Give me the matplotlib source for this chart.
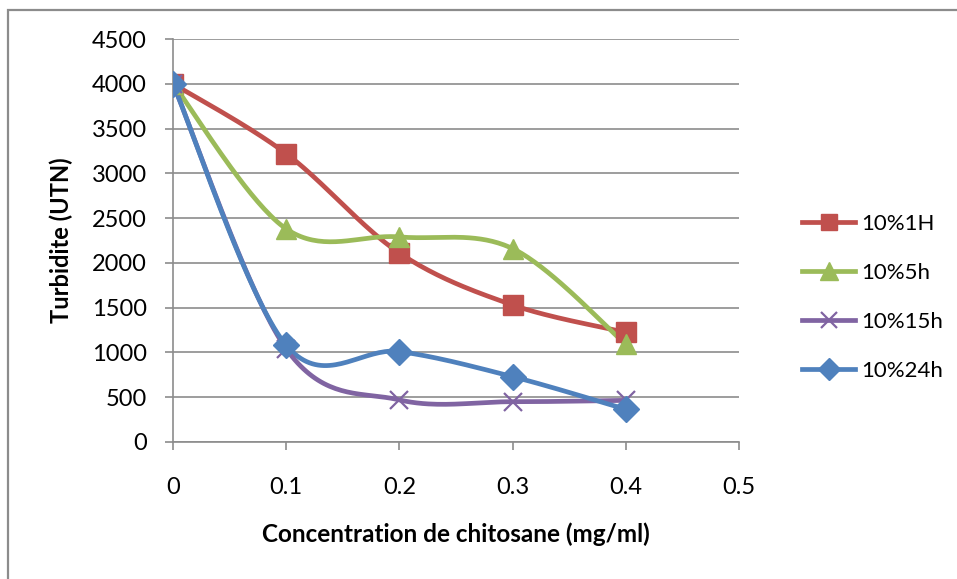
import numpy as np
import matplotlib.pyplot as plt
from matplotlib.lines import Line2D

# concentration de chitosane (mg/ml)
conc = [0, 0.1, 0.2, 0.3, 0.4]

# turbidite (UTN) for each treatment
turb_1h = [4000, 3220, 2110, 1530, 1225]
turb_5h = [4000, 2380, 2290, 2160, 1090]
turb_15h = [4000, 1040, 470, 450, 465]
turb_24h = [4000, 1080, 1010, 730, 365]

labels = ['10%1H', '10%5h', '10%15h', '10%24h']
colors = ['#C0504D', '#9BBB59', '#8064A2', '#4F81BD']
markers = ['s', '^', 'x', 'D']
msizes = [14, 15, 13, 13]

x_ticks = [0, 0.1, 0.2, 0.3, 0.4, 0.5]
y_ticks = [0, 500, 1000, 1500, 2000, 2500, 3000, 3500, 4000, 4500]


def smooth(x, y, n=40):
    """Bezier smoothing through every point (Catmull-Rom style control points)."""
    x = np.asarray(x, float)
    y = np.asarray(y, float)
    pts = np.column_stack([x, y])
    out = [pts[:1]]
    t = np.linspace(0, 1, n)[1:, None]
    for i in range(len(pts) - 1):
        p0 = pts[i]
        p3 = pts[i + 1]
        prev = pts[i - 1] if i > 0 else pts[i]
        nxt = pts[i + 2] if i + 2 < len(pts) else pts[i + 1]
        c1 = p0 + (p3 - prev) / 6.0
        c2 = p3 - (nxt - p0) / 6.0
        seg = ((1 - t) ** 3) * p0 + 3 * ((1 - t) ** 2) * t * c1 \
            + 3 * (1 - t) * t ** 2 * c2 + t ** 3 * p3
        out.append(seg)
    curve = np.vstack(out)
    return curve[:, 0], curve[:, 1]


plt.rcParams['font.family'] = ['Lato', 'DejaVu Sans']

fig = plt.figure(figsize=(9.57, 5.79), dpi=100)
ax = fig.add_axes([173 / 957, 1 - 442 / 579, (739 - 173) / 957, (442 - 39) / 579])

# chart frame
fig.add_artist(plt.Rectangle((8 / 957, -0.1), 1.2, 1 - 10 / 579 + 0.1,
                             transform=fig.transFigure, fill=False,
                             edgecolor='#8c8c8c', lw=1.6))

series = [turb_1h, turb_5h, turb_15h, turb_24h]
handles = []
for ys, lab, c, m, ms in zip(series, labels, colors, markers, msizes):
    sx, sy = smooth(conc, ys)
    ax.plot(sx, sy, color=c, lw=3.4, solid_capstyle='round', zorder=3)
    if m == 'x':
        ax.plot(conc, ys, ls='none', marker=m, ms=ms, mew=1.6, color=c, zorder=4)
    else:
        ax.plot(conc, ys, ls='none', marker=m, ms=ms, color=c, mec=c, zorder=4)
    handles.append(Line2D([0], [0], color=c, lw=3.4, marker=m, ms=ms - 2,
                          mew=1.6 if m == 'x' else 1, label=lab))

ax.set_xlim(0, 0.5)
ax.set_ylim(0, 4500)
ax.set_xticks(x_ticks)
ax.set_xticklabels([f'{v:g}' for v in x_ticks])
ax.set_yticks(y_ticks)
ax.grid(axis='y', color='#8c8c8c', lw=1.2)
ax.set_axisbelow(True)
for s in ['top', 'right']:
    ax.spines[s].set_visible(False)
for s in ['left', 'bottom']:
    ax.spines[s].set_color('#8c8c8c')
    ax.spines[s].set_linewidth(1.2)
ax.tick_params(axis='x', length=6, width=1.2, color='#8c8c8c', pad=19,
               labelsize=17)
ax.tick_params(axis='y', length=6, width=1.2, color='#8c8c8c', pad=13,
               labelsize=17)

ax.set_xlabel('Concentration de chitosane (mg/ml)', fontsize=17.5,
              fontweight='bold', labelpad=18)
ax.set_ylabel('Turbidite (UTN)', fontsize=17, fontweight='bold', labelpad=13)

fig.legend(handles=handles, loc='upper left', bbox_to_anchor=(793 / 957, 1 - 205 / 579),
           frameon=False, fontsize=16, handlelength=2.4, handletextpad=0.25,
           labelspacing=1.3, borderaxespad=0)

plt.savefig('out.png', dpi=100)
